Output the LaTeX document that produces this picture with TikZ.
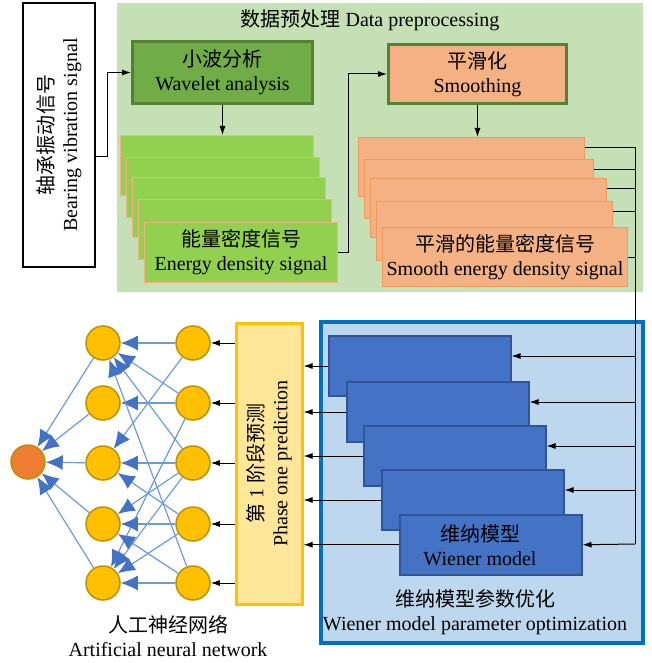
\documentclass[tikz,border=0pt]{standalone}
\usepackage{fontspec}
\setmainfont{Liberation Serif}
\newfontfamily\cjk{Noto Sans CJK SC}
\usepackage{tikz}
\usetikzlibrary{arrows.meta}

\definecolor{prebg}{HTML}{C5E0B4}
\definecolor{wavefill}{HTML}{70AD47}
\definecolor{wavedraw}{HTML}{548235}
\definecolor{engfill}{HTML}{92D050}
\definecolor{engdraw}{HTML}{F4B183}
\definecolor{smfill}{HTML}{F4B183}
\definecolor{smdraw}{HTML}{EE9A5E}
\definecolor{optfill}{HTML}{BDD7EE}
\definecolor{optdraw}{HTML}{0070C0}
\definecolor{wnfill}{HTML}{4472C4}
\definecolor{wndraw}{HTML}{2F5597}
\definecolor{phfill}{HTML}{FFE699}
\definecolor{phdraw}{HTML}{FFC000}
\definecolor{nrfill}{HTML}{FFC000}
\definecolor{nrdraw}{HTML}{BF9000}
\definecolor{outfill}{HTML}{ED7D31}
\definecolor{synline}{HTML}{6A9BDF}
\definecolor{synhead}{HTML}{4472C4}

\newcommand\boxfont{\fontsize{20}{24}\selectfont}

\tikzset{
  base/.style={rectangle, inner sep=0pt, align=center, font=\boxfont},
  nw/.style={base, anchor=north west},
  vibbox/.style={base, draw=black, line width=1.2pt, fill=white, rotate=90},
  wavebox/.style={nw, draw=wavedraw, line width=3pt, fill=wavefill},
  engbox/.style={nw, draw=engdraw, line width=1pt, fill=engfill, minimum width=193, minimum height=60},
  smbox/.style={nw, draw=wavedraw, line width=3pt, fill=smfill},
  smthbox/.style={nw, draw=smdraw, line width=1pt, fill=smfill, minimum height=59},
  optbox/.style={nw, draw=optdraw, line width=4pt, fill=optfill},
  wnbox/.style={nw, draw=wndraw, line width=1.5pt, fill=wnfill, minimum width=182, minimum height=60},
  phasebox/.style={base, draw=phdraw, line width=3pt, fill=phfill, rotate=90},
  neuron/.style={circle, draw=nrdraw, line width=1.5pt, fill=nrfill, minimum size=34, inner sep=0pt},
  link/.style={-{Latex[length=9pt,width=6pt]}, line width=1pt},
  syn/.style={draw=synline, line width=1.2pt, -{Latex[length=17pt,width=15pt,color=synhead]}},
}

\begin{document}
\begin{tikzpicture}[x=1pt,y=-1pt]
 \useasboundingbox (0,0) rectangle (651,663);
 % input signal
 \node[vibbox, minimum width=264, minimum height=72] (vib) at (59,135)
   {{\cjk 轴承振动信号}\\Bearing vibration signal};
 % data preprocessing
 \node[nw, fill=prebg, minimum width=526, minimum height=289] (pre) at (117,3) {};
 \node[base] (pretitle) at (370,20) {{\cjk 数据预处理} Data preprocessing};
 \node[wavebox, minimum width=180, minimum height=62] (wave) at (131,40)
   {{\cjk 小波分析}\\Wavelet analysis};
 \foreach \i/\x/\y in {1/120/135,2/126/157,3/132/177,4/138/199}
   \node[engbox] (g\i) at (\x,\y) {};
 \node[engbox] (g5) at (144,222) {{\cjk 能量密度信号}\\Energy density signal};
 \node[smbox, minimum width=178, minimum height=59] (smooth) at (387,43)
   {{\cjk 平滑化}\\Smoothing};
 \foreach \i/\x/\y/\w in {1/358/137/226,2/364/159/229,3/370/178/236,4/376/201/236}
   \node[smthbox, minimum width=\w] (o\i) at (\x,\y) {};
 \node[smthbox, minimum width=245] (o5) at (382,227)
   {{\cjk 平滑的能量密度信号}\\Smooth energy density signal};
 \draw[link] ([yshift=-22pt]vib.south) -- ++(12,0) |- (wave.west);
 \draw[link] (wave.south) -- (wave.south |- g1.north);
 \draw[link] (g5.east) -- ++(10,0) |- (smooth.west);
 \draw[link] (smooth.south) -- (smooth.south |- o1.north);
 % Wiener model parameter optimization
 \node[optbox, minimum width=322, minimum height=321] (opt) at (319,320) {};
 \foreach \i/\x/\y in {1/328/335,2/346/381,3/363/425,4/381/469}
   \node[wnbox] (w\i) at (\x,\y) {};
 \node[wnbox] (w5) at (399,514) {};
 \node[base] (wntext) at (480,545) {{\cjk 维纳模型}\\Wiener model};
 \node[base] (optlabel) at (475,612)
   {{\cjk 维纳模型参数优化}\\Wiener model parameter optimization};
 % bus from smoothed signals to the Wiener models
 \coordinate (bus) at (635,147);
 \coordinate (busend) at (635,544);
 \foreach \i in {1,...,4} {
   \coordinate (ot\i) at ([yshift=-10pt]o\i.north east);
   \draw (ot\i) -- (ot\i -| bus);
 }
 \draw (o5.east) -- (o5.east -| bus);
 \draw (bus) -- (busend);
 \foreach \i in {1,...,4} {
   \coordinate (wr\i) at ([yshift=-21pt]w\i.north east);
   \draw[link] (wr\i -| bus) -- (wr\i);
 }
 \draw[link] (busend) -- (w5.east);
 % phase one prediction
 \node[phasebox, minimum width=281, minimum height=66] (phase) at (269,463.5)
   {{\cjk 第} 1 {\cjk 阶段预测}\\Phase one prediction};
 \foreach \i in {1,...,4} {
   \coordinate (wl\i) at ([yshift=-31pt]w\i.north west);
   \draw[link] (wl\i) -- (phase.south |- wl\i);
 }
 \draw[link] (w5.west) -- (phase.south |- w5.west);
 % neural network
 \foreach \i/\y in {1/343,2/403,3/463,4/524,5/583} {
   \node[neuron] (hid\i) at (103,\y) {};
   \node[neuron] (in\i) at (193,\y) {};
   \draw[link] (phase.north |- in\i) -- (in\i);
 }
 \node[neuron, fill=outfill] (out) at (28,462) {};
 \foreach \i in {1,...,5}
   \draw[syn] (hid\i) -- (out);
 \foreach \a/\b in {1/1,1/3,2/1,2/2,2/5,3/1,3/3,3/4,3/5,4/3,4/4,4/5,5/1,5/4,5/5}
   \draw[syn] (in\a) -- (hid\b);
 \node[base] (annlabel) at (168,636) {{\cjk 人工神经网络}\\Artificial neural network};
\end{tikzpicture}
\end{document}
